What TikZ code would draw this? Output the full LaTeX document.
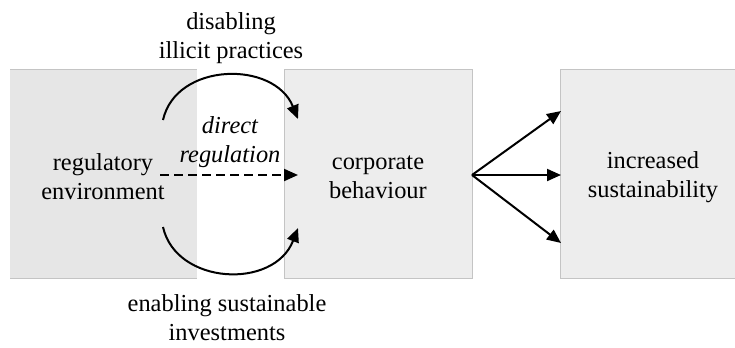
\documentclass[tikz,border=0pt]{standalone}
\usepackage{fontspec}
\setmainfont{Liberation Serif}
\usetikzlibrary{arrows.meta}
\definecolor{boxdark}{HTML}{E6E6E6}
\definecolor{boxlight}{HTML}{EDEDED}
\definecolor{boxline}{HTML}{C4C4C4}
\begin{document}
\begin{tikzpicture}[x=1bp,y=-1bp,
  lbl/.style={font=\fontsize{24.5}{29}\selectfont, align=center, inner sep=0pt},
  conn/.style={line width=2bp, -{Triangle[length=14bp,width=12bp]}},
]
\useasboundingbox (0,0) rectangle (735,347);
% boxes
\fill[boxdark] (10,69) rectangle (197,278);
\draw[boxline, line width=0.8bp] (10,69) -- (197,69);
\draw[boxline, line width=0.8bp] (10,278) -- (197,278);
\filldraw[fill=boxlight, draw=boxline, line width=0.8bp] (284,69) rectangle (472,278);
\fill[boxlight] (560,69) rectangle (736,278);
\draw[boxline, line width=0.8bp] (736,69) -- (560,69) -- (560,278) -- (736,278);
% nodes
\node[lbl] (reg) at (103,177) {regulatory\\environment};
\node[lbl] (corp) at (378,177) {corporate\\behaviour};
\node[lbl] (sust) at (653,177) {increased\\sustainability};
\node[lbl] (dis) at (231,38) {disabling\\illicit practices};
\node[lbl] (ena) at (227,318) {enabling sustainable\\investments};
\node[lbl, font=\fontsize{24.5}{29}\selectfont\itshape] (dir) at (230,142) {direct\\regulation};
% connector anchors
\coordinate (topS) at (163,120);
\coordinate (topE) at (298,119);
\coordinate (botS) at (163,227);
\coordinate (botE) at (298,228);
\coordinate (dashS) at (160,175);
\coordinate (dashE) at (298,175);
\coordinate (fan) at (472,175);
\coordinate (outT) at (561,111);
\coordinate (outM) at (561,175);
\coordinate (outB) at (561,243);
% connectors
\draw[conn] (topS) .. controls (176,62) and (274,60) .. (topE);
\draw[conn] (botS) .. controls (176,285) and (274,290) .. (botE);
\draw[conn, dash pattern=on 9bp off 5bp] (dashS) -- (dashE);
\draw[conn] (fan) -- (outT);
\draw[conn] (fan) -- (outM);
\draw[conn] (fan) -- (outB);
\end{tikzpicture}
\end{document}
